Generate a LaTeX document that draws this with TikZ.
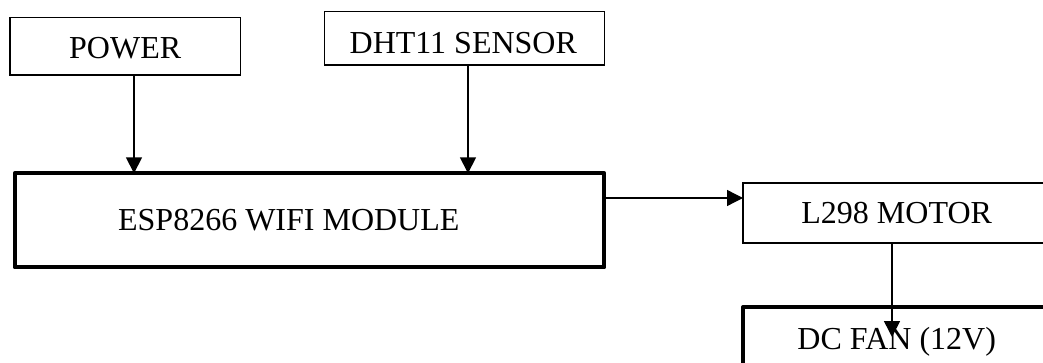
\documentclass[tikz,border=0pt]{standalone}
\usepackage{fontspec}
\setmainfont{Liberation Serif}
\usetikzlibrary{arrows.meta}
\begin{document}
\begin{tikzpicture}[x=1pt,y=-1pt,
  box/.style={draw=black, line width=1.5pt, outer sep=0pt, inner sep=0pt, anchor=north west},
  thickbox/.style={box, line width=4pt, line join=round},
  lbl/.style={inner sep=0pt, outer sep=0pt, anchor=base, font=\fontsize{32}{38}\selectfont},
  arr/.style={line width=1.6pt, -{Triangle[width=16pt,length=16pt]}}]
\useasboundingbox (0,0) rectangle (1043,363);
\clip (0,0) rectangle (1043,363);
% boxes
\node[box, minimum width=230.7pt, minimum height=57.7pt] (power) at (10,17.3) {};
\node[box, minimum width=280pt, minimum height=53.7pt] (dht) at (324.3,11.3) {};
\node[thickbox, minimum width=589.6pt, minimum height=94pt] (esp) at (14.7,173.3) {};
\node[box, minimum width=317pt, minimum height=60pt] (l298) at (743,183) {};
\node[thickbox, minimum width=317pt, minimum height=80pt] (fan) at (743,307) {};
% labels
\node[lbl] (powertext) at (125.2,58.1) {POWER};
\node[lbl] (dhttext) at (463.3,53.1) {DHT11 SENSOR};
\node[lbl] (esptext) at (288.8,230.1) {ESP8266 WIFI MODULE};
\node[lbl] (l298text) at (896.7,223.1) {L298 MOTOR};
\node[lbl] (fantext) at (896.7,349.6) {DC FAN (12V)};
% connectors
\coordinate (fantip) at (892,337);
\draw[arr] (134,0 |- power.south) -- (134,0 |- esp.north);
\draw[arr] (468,0 |- dht.south) -- (468,0 |- esp.north);
\draw[arr, line width=1.3pt] (esp.east |- 0,198) -- (l298.west |- 0,198);
\draw[arr] (892,0 |- l298.south) -- (fantip);
\end{tikzpicture}
\end{document}
